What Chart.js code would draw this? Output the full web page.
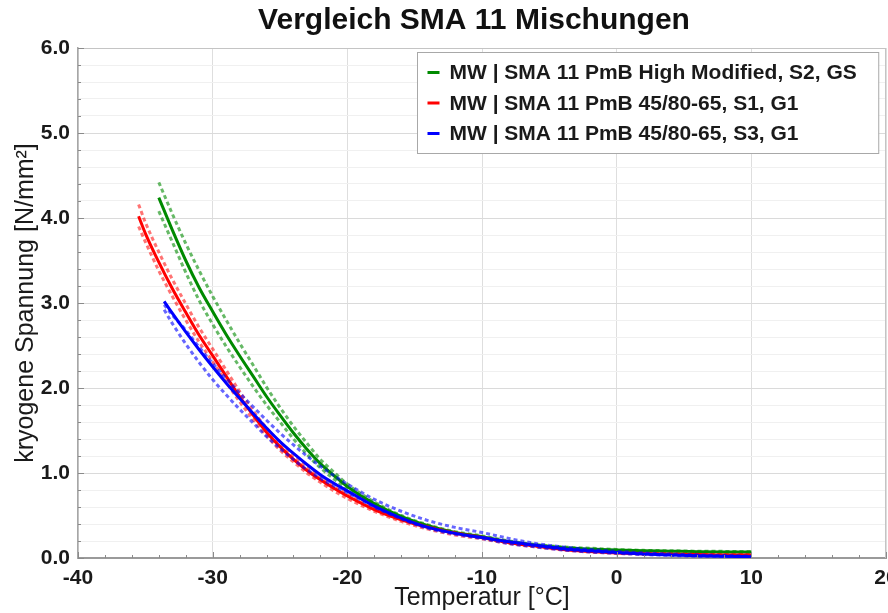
<!DOCTYPE html>
<html>
<head>
<meta charset="utf-8">
<script src="https://cdn.jsdelivr.net/npm/chart.js@4"></script>
<style>
  html, body { margin: 0; padding: 0; background: #fff; }
  #wrap { width: 888px; height: 613px; }
</style>
</head>
<body>
<div id="wrap"><canvas id="chart" width="888" height="613"></canvas></div>
<script>
/* =========================
   DATA
========================= */
const chartTitle = "Vergleich SMA 11 Mischungen";
const xTitle = "Temperatur [°C]";
const yTitle = "kryogene Spannung [N/mm²]";
const seriesNames = [
  "MW | SMA 11 PmB High Modified, S2, GS",
  "MW | SMA 11 PmB 45/80-65, S1, G1",
  "MW | SMA 11 PmB 45/80-65, S3, G1"
];
const xTicks = [-40, -30, -20, -10, 0, 10, 20];
const yTicks = [0, 1, 2, 3, 4, 5, 6];

// green: High Modified
const tempGreen = [-34, -33, -32, -31, -30, -29, -28, -27, -26, -25, -24, -23, -22, -21, -20, -18, -16, -14, -12, -10, -8, -6, -4, -2, 0, 2, 4, 6, 8, 10];
const greenMean = [4.24, 3.86, 3.5, 3.18, 2.9, 2.63, 2.38, 2.14, 1.9, 1.68, 1.47, 1.28, 1.11, 0.97, 0.84, 0.64, 0.49, 0.38, 0.3, 0.25, 0.19, 0.15, 0.12, 0.105, 0.095, 0.085, 0.08, 0.075, 0.072, 0.07];
const greenRun1 = [4.42, 4.05, 3.7, 3.38, 3.08, 2.8, 2.53, 2.27, 2.01, 1.77, 1.55, 1.35, 1.16, 1.01, 0.87, 0.66, 0.5, 0.39, 0.31, 0.26, 0.2, 0.16, 0.13, 0.115, 0.1, 0.09, 0.085, 0.08, 0.078, 0.075];
const greenRun2 = [4.08, 3.72, 3.36, 3.03, 2.75, 2.49, 2.25, 2.02, 1.8, 1.6, 1.4, 1.22, 1.06, 0.93, 0.81, 0.62, 0.47, 0.36, 0.29, 0.24, 0.18, 0.14, 0.11, 0.1, 0.088, 0.08, 0.075, 0.07, 0.068, 0.065];

// red: 45/80-65, S1
const tempRed = [-35.5, -35, -34, -33, -32, -31, -30, -29, -28, -27, -26, -25, -24, -23, -22, -21, -20, -18, -16, -14, -12, -10, -8, -6, -4, -2, 0, 2, 4, 6, 8, 10];
const redMean = [4.02, 3.82, 3.48, 3.17, 2.89, 2.62, 2.38, 2.14, 1.9, 1.68, 1.48, 1.31, 1.16, 1.03, 0.92, 0.82, 0.73, 0.57, 0.45, 0.36, 0.29, 0.24, 0.18, 0.14, 0.1, 0.075, 0.06, 0.05, 0.045, 0.04, 0.035, 0.035];
const redRun1 = [4.16, 3.95, 3.6, 3.28, 2.99, 2.71, 2.46, 2.21, 1.96, 1.73, 1.53, 1.35, 1.19, 1.06, 0.95, 0.84, 0.75, 0.59, 0.46, 0.37, 0.3, 0.245, 0.185, 0.145, 0.105, 0.08, 0.065, 0.055, 0.048, 0.043, 0.04, 0.038];
const redRun2 = [3.9, 3.72, 3.38, 3.08, 2.8, 2.54, 2.31, 2.07, 1.84, 1.63, 1.44, 1.27, 1.13, 1.0, 0.89, 0.79, 0.7, 0.55, 0.43, 0.34, 0.27, 0.225, 0.17, 0.13, 0.095, 0.07, 0.055, 0.045, 0.04, 0.035, 0.03, 0.03];

// blue: 45/80-65, S3
const tempBlue = [-33.6, -33, -32, -31, -30, -29, -28, -27, -26, -25, -24, -23, -22, -21, -20, -18, -16, -14, -12, -10, -8, -6, -4, -2, 0, 2, 4, 6, 8, 10];
const blueMean = [3.02, 2.88, 2.66, 2.45, 2.25, 2.06, 1.88, 1.7, 1.53, 1.37, 1.23, 1.1, 0.98, 0.88, 0.79, 0.61, 0.47, 0.36, 0.29, 0.24, 0.19, 0.15, 0.11, 0.085, 0.065, 0.048, 0.035, 0.026, 0.02, 0.015];
const blueRun1 = [2.92, 2.76, 2.52, 2.3, 2.1, 1.92, 1.75, 1.59, 1.43, 1.29, 1.16, 1.04, 0.94, 0.85, 0.77, 0.6, 0.46, 0.35, 0.28, 0.23, 0.17, 0.13, 0.095, 0.07, 0.055, 0.04, 0.03, 0.022, 0.018, 0.012];
const blueRun2 = [2.98, 2.86, 2.68, 2.48, 2.29, 2.11, 1.94, 1.78, 1.62, 1.47, 1.33, 1.2, 1.08, 0.97, 0.87, 0.69, 0.55, 0.44, 0.36, 0.3, 0.23, 0.17, 0.13, 0.1, 0.078, 0.06, 0.046, 0.036, 0.028, 0.022];

const seriesColors = ["#008a00", "#ff0000", "#0000ff"];
const runColors = ["rgba(0,138,0,0.6)", "rgba(255,0,0,0.55)", "rgba(0,0,255,0.6)"];

const FONT = '"Liberation Sans", Arial, sans-serif';

/* =========================
   HELPERS
========================= */
function pts(temps, vals) {
  return temps.map((t, i) => ({ x: t, y: vals[i] }));
}

function meanSet(idx, temps, vals, order) {
  return {
    label: seriesNames[idx],
    data: pts(temps, vals),
    borderColor: seriesColors[idx],
    borderWidth: 3,
    showLine: true,
    pointRadius: 0,
    cubicInterpolationMode: "monotone",
    order: order
  };
}

function runSet(idx, temps, vals, order) {
  return {
    label: "",
    data: pts(temps, vals),
    borderColor: runColors[idx],
    borderWidth: 3,
    borderDash: [4, 3],
    showLine: true,
    pointRadius: 0,
    cubicInterpolationMode: "monotone",
    order: order
  };
}

/* =========================
   DECOR: title, frame, minor ticks, legend box
========================= */
const decorPlugin = {
  id: "decor",
  afterDraw(chart) {
    const { ctx, chartArea: a, scales } = chart;
    const xs = scales.x, ys = scales.y;
    ctx.save();

    // frame top + right
    ctx.strokeStyle = "#c4c4c4";
    ctx.lineWidth = 1;
    ctx.beginPath();
    ctx.moveTo(a.left, a.top + 0.5);
    ctx.lineTo(a.right, a.top + 0.5);
    ctx.moveTo(a.right - 0.5, a.top);
    ctx.lineTo(a.right - 0.5, a.bottom);
    ctx.stroke();

    // small tick marks inside the axes
    ctx.strokeStyle = "#8a8a8a";
    ctx.beginPath();
    for (let t = xTicks[0]; t <= xTicks[xTicks.length - 1]; t += 2) {
      const px = Math.round(xs.getPixelForValue(t)) + 0.5;
      ctx.moveTo(px, a.bottom);
      ctx.lineTo(px, a.bottom - (t % 10 === 0 ? 6 : 3));
    }
    for (let k = 0; k <= 30; k++) {
      const py = Math.round(ys.getPixelForValue(k * 0.2)) + 0.5;
      ctx.moveTo(a.left, py);
      ctx.lineTo(a.left + (k % 5 === 0 ? 6 : 3), py);
    }
    ctx.stroke();

    // title
    ctx.font = "bold 30px " + FONT;
    ctx.fillStyle = "#111";
    ctx.textAlign = "center";
    ctx.textBaseline = "middle";
    ctx.fillText(chartTitle, 474, 21);

    // legend box, top right inside plot
    ctx.font = "bold 21px " + FONT;
    const textW = Math.max(...seriesNames.map(s => ctx.measureText(s).width));
    const boxW = 10 + 12 + 10 + textW + 22;
    const boxH = 101;
    const bx = Math.round(a.right - 8 - boxW) + 0.5;
    const by = a.top + 4.5;
    ctx.fillStyle = "#fff";
    ctx.fillRect(bx, by, boxW, boxH);
    ctx.strokeStyle = "#a8a8a8";
    ctx.lineWidth = 1;
    ctx.strokeRect(bx, by, boxW, boxH);

    ctx.textAlign = "left";
    seriesNames.forEach((name, i) => {
      const cy = by + 20 + i * 30.5;
      ctx.fillStyle = seriesColors[i];
      ctx.fillRect(bx + 10, cy - 1.5, 12, 3);
      ctx.fillStyle = "#1a1a1a";
      ctx.fillText(name, bx + 32, cy + 1);
    });

    ctx.restore();
  }
};

/* =========================
   CHART
========================= */
new Chart(document.getElementById("chart"), {
  type: "scatter",
  data: {
    datasets: [
      meanSet(0, tempGreen, greenMean, 6),
      runSet(0, tempGreen, greenRun1, 7),
      runSet(0, tempGreen, greenRun2, 7),
      meanSet(1, tempRed, redMean, 3),
      runSet(1, tempRed, redRun1, 4),
      runSet(1, tempRed, redRun2, 4),
      meanSet(2, tempBlue, blueMean, 0),
      runSet(2, tempBlue, blueRun1, 1),
      runSet(2, tempBlue, blueRun2, 1)
    ]
  },
  options: {
    responsive: false,
    animation: false,
    devicePixelRatio: 1,
    layout: { padding: { top: 48, right: 2, left: 0, bottom: 0 } },
    plugins: {
      legend: { display: false },
      title: { display: false },
      tooltip: { enabled: false }
    },
    scales: {
      x: {
        type: "linear",
        min: xTicks[0],
        max: xTicks[xTicks.length - 1],
        afterBuildTicks(scale) {
          scale.ticks = xTicks.map(v => ({ value: v }));
        },
        afterFit(scale) {
          scale.height = 55;
          scale.paddingRight = 0;
          scale.paddingLeft = 0;
        },
        grid: { color: "#dedede", lineWidth: 1, drawTicks: false },
        border: { color: "#9a9a9a", width: 2 },
        ticks: {
          autoSkip: false,
          maxRotation: 0,
          padding: 8,
          color: "#1a1a1a",
          font: { family: FONT, size: 21, weight: "bold" }
        },
        title: {
          display: true,
          text: xTitle,
          color: "#1a1a1a",
          padding: { top: 0, bottom: 0 },
          font: { family: FONT, size: 25 }
        }
      },
      y: {
        type: "linear",
        min: yTicks[0],
        max: yTicks[yTicks.length - 1],
        afterBuildTicks(scale) {
          const t = [];
          for (let k = 0; k <= 30; k++) t.push({ value: Math.round(k * 2) / 10 });
          scale.ticks = t;
        },
        afterFit(scale) {
          scale.width = 78;
        },
        grid: {
          drawTicks: false,
          color: c => (Math.abs(c.tick.value - Math.round(c.tick.value)) < 1e-6 ? "#dadada" : "#f0f0f0")
        },
        border: { color: "#a6a6a6", width: 1.5 },
        ticks: {
          autoSkip: false,
          padding: 8,
          color: "#1a1a1a",
          font: { family: FONT, size: 21, weight: "bold" },
          callback: v => (yTicks.includes(Math.round(v * 1000) / 1000) ? v.toFixed(1) : "")
        },
        title: {
          display: true,
          text: yTitle,
          color: "#1a1a1a",
          padding: { top: 11, bottom: 0 },
          font: { family: FONT, size: 25 }
        }
      }
    }
  },
  plugins: [decorPlugin]
});
</script>
</body>
</html>
